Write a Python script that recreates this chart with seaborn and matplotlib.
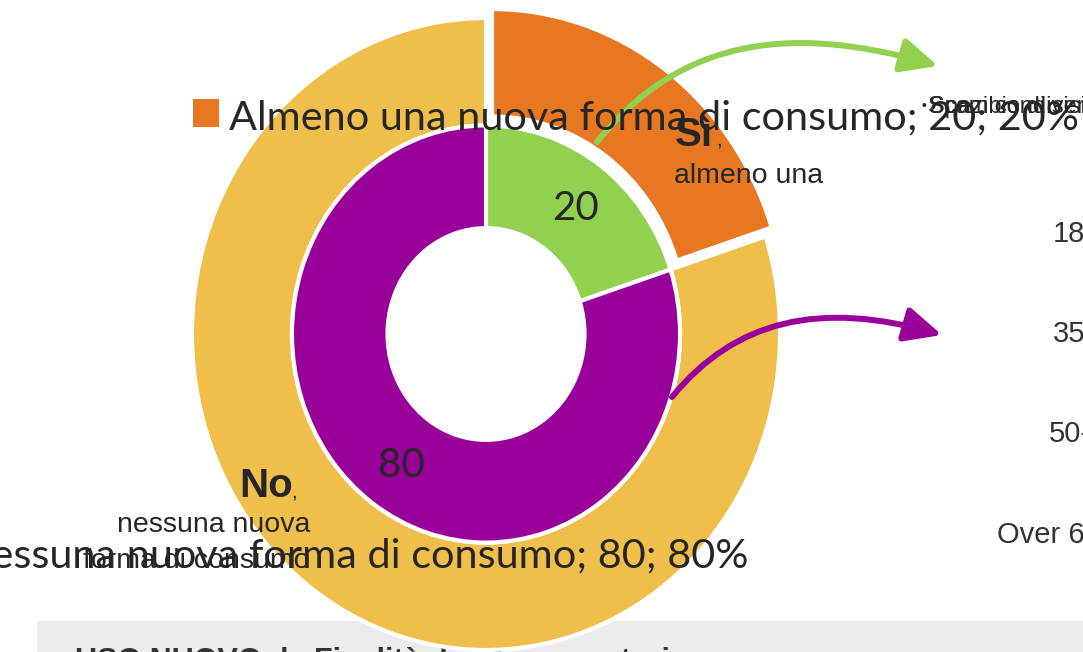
import matplotlib
matplotlib.use("Agg")
import matplotlib.pyplot as plt
import seaborn as sns
from matplotlib.patches import FancyArrowPatch, Rectangle
from matplotlib.path import Path

sns.set_theme(style="white")
plt.rcParams["font.family"] = ["Lato", "DejaVu Sans"]

# Donut data: outer ring (share of respondents), inner ring (same split)
outer_labels = ["Almeno una nuova forma di consumo", "Nessuna nuova forma di consumo"]
outer_values = [20, 80]
inner_values = [20, 80]
outer_colors = ["#E87722", "#F0BE4A"]
inner_colors = ["#92D050", "#990099"]
age_labels = ["18-34", "35-49", "50-64", "Over 65"]
service_labels = ["Scambio di servizi", "Spazi condivisi"]

W, H = 1083, 652
fig = plt.figure(figsize=(W / 100, H / 100), dpi=100)
fig.patch.set_facecolor("white")

# background layer (grey band at the bottom)
bg = fig.add_axes([0, 0, 1, 1])
bg.set_xlim(0, W)
bg.set_ylim(H, 0)
bg.axis("off")
bg.add_patch(Rectangle((37, 621), W - 37, 40, facecolor="#EBECEB", edgecolor="none"))
bg.text(75, 670.5, "USO NUOVO: le Finalità dei Consumatori", fontsize=22, fontweight="bold",
        color="#333333", family=["Liberation Sans"], va="baseline")

# pie layer, slightly taller than wide
cx, cy, rx, ry, lim = 486, 334, 294, 316, 1.2
left = (cx - lim * rx) / W
bottom = (H - (cy + lim * ry)) / H
pie_ax = fig.add_axes([left, bottom, 2 * lim * rx / W, 2 * lim * ry / H])
pie_ax.patch.set_alpha(0)
wp = dict(edgecolor="white", linewidth=3)
pie_ax.pie(outer_values, colors=outer_colors, startangle=90, counterclock=False,
           radius=1.0, explode=[0.035, 0], wedgeprops=dict(width=0.34, **wp))
pie_ax.pie(inner_values, colors=inner_colors, startangle=90, counterclock=False,
           radius=0.66, wedgeprops=dict(width=0.325, **wp))
pie_ax.set_aspect("auto")
pie_ax.set_xlim(-lim, lim)
pie_ax.set_ylim(-lim, lim)
pie_ax.axis("off")

# overlay layer: texts and arrows in pixel coordinates
ov = fig.add_axes([0, 0, 1, 1])
ov.set_xlim(0, W)
ov.set_ylim(H, 0)
ov.axis("off")
ov.patch.set_alpha(0)

dark = "#262626"
ov.add_patch(Rectangle((193, 99), 26, 28, facecolor=outer_colors[0], edgecolor="none"))
ov.text(229, 129, f"{outer_labels[0]}; {outer_values[0]}; {outer_values[0]}%",
        fontsize=29.8, color=dark, va="baseline", ha="left")
ov.text(748, 567, f"{outer_labels[1]}; {outer_values[1]}; {outer_values[1]}%",
        fontsize=29.8, color=dark, va="baseline", ha="right")

ov.text(576, 220, str(inner_values[0]), fontsize=29, color=dark, ha="center", va="baseline")
ov.text(401, 477, str(inner_values[1]), fontsize=29, color=dark, ha="center", va="baseline")

arial = ["Liberation Sans"]
ov.text(675, 146, "Sì", fontsize=29, fontweight="bold", color=dark, family=arial, va="baseline")
ov.text(716, 146, ",", fontsize=15, color=dark, family=arial, va="baseline")
ov.text(674, 183, "almeno una", fontsize=20.5, color=dark, family=arial, va="baseline")
ov.text(239, 497, "No", fontsize=29, fontweight="bold", color=dark, family=arial, va="baseline")
ov.text(291, 497, ",", fontsize=15, color=dark, family=arial, va="baseline")
ov.text(310, 532, "nessuna nuova", fontsize=20.5, color=dark, family=arial, ha="right", va="baseline")
ov.text(310, 568, "forma di consumo", fontsize=20.5, color=dark, family=arial, ha="right", va="baseline")

# category labels of the panel on the right
ov.text(921, 110, "•", fontsize=10, color=dark, family=arial, va="baseline")
ov.text(928, 113, service_labels[0], fontsize=17, color=dark, family=arial, va="baseline")
ov.text(929, 113, service_labels[1], fontsize=17, color=dark, family=arial, va="baseline")
for x, y, lab in zip([1053, 1053, 1049, 997], [242, 342, 442, 543], age_labels):
    ov.text(x, y, lab, fontsize=21, color="#333333", family=arial, va="baseline")

# curved arrows pointing to the right-hand panel
def curved_arrow(pts, color):
    path = Path(pts, [Path.MOVETO, Path.CURVE4, Path.CURVE4, Path.CURVE4])
    ov.add_patch(FancyArrowPatch(path=path, arrowstyle="-|>,head_length=1.6,head_width=0.75",
                                 color=color, linewidth=4.3, mutation_scale=14))

curved_arrow([(597, 142), (675, 45), (780, 20), (938, 66)], inner_colors[0])
curved_arrow([(672, 397), (735, 320), (820, 300), (942, 335)], inner_colors[1])

fig.savefig("out.png", dpi=100, facecolor="white")
